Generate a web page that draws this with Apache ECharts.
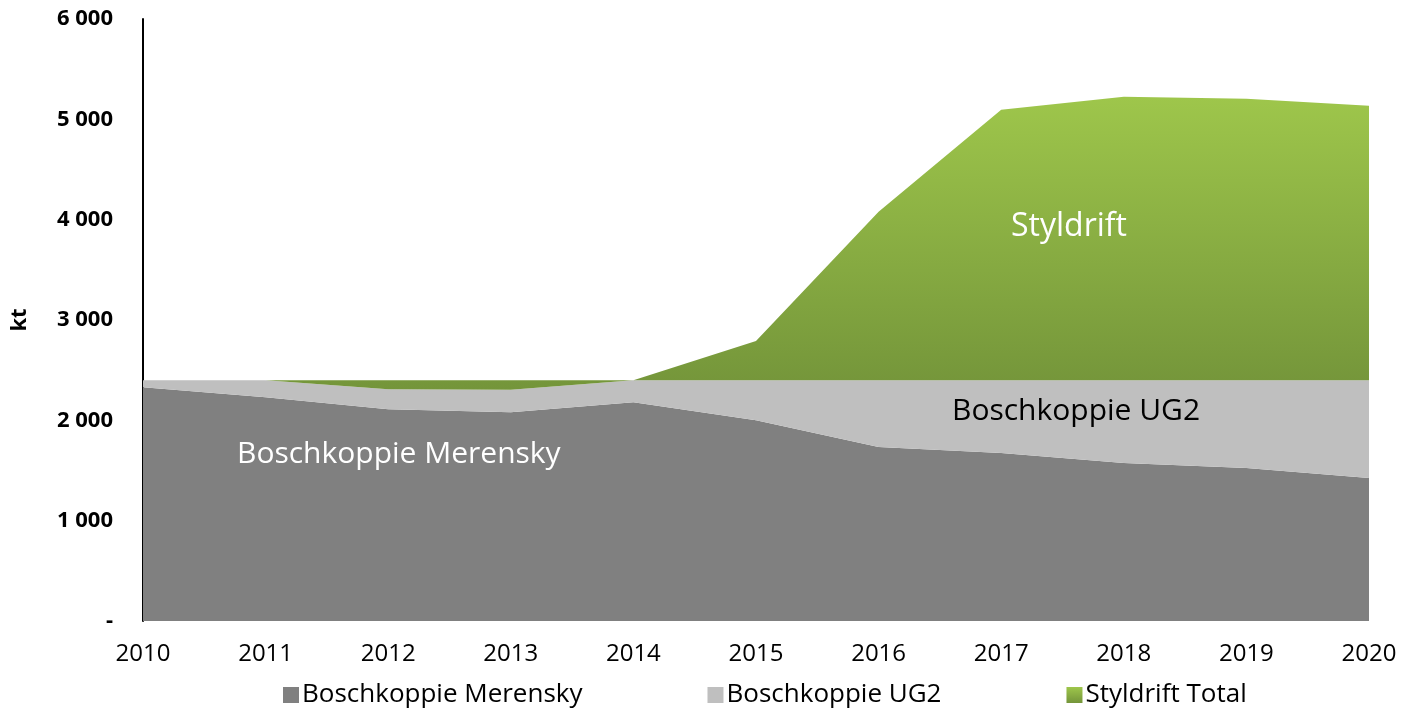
<!DOCTYPE html>
<html>
<head>
<meta charset="utf-8">
<script src="https://cdn.jsdelivr.net/npm/echarts@6/dist/echarts.min.js"></script>
<style>
  html, body { margin: 0; padding: 0; background: #fff; }
  #chart { width: 1404px; height: 710px; }
</style>
</head>
<body>
<div id="chart"></div>
<script>
// Years on the x axis
const years = ['2010', '2011', '2012', '2013', '2014', '2015', '2016', '2017', '2018', '2019', '2020']

// Stacked tonnes (kt)
const merensky = [2330, 2230, 2110, 2080, 2180, 2000, 1735, 1675, 1575, 1525, 1425]
const ug2 = [70, 170, 200, 225, 220, 400, 665, 725, 825, 875, 975]
const styldrift = [0, 0, 90, 95, 0, 390, 1680, 2695, 2825, 2805, 2735]

const seriesNames = ['Boschkoppie Merensky', 'Boschkoppie UG2', 'Styldrift Total']

const font = '"Open Sans", sans-serif'

const greenFill = new echarts.graphic.LinearGradient(0, 0, 0, 1, [
  { offset: 0, color: '#9ec64b' },
  { offset: 1, color: '#74953a' }
])

const chart = echarts.init(document.getElementById('chart'))

const options = {
  animation: false,
  grid: { left: 143, right: 35, top: 19, bottom: 89 },
  legend: {
    top: 677,
    left: 278,
    itemWidth: 16,
    itemHeight: 16,
    itemGap: 125,
    icon: 'rect',
    textStyle: { fontFamily: font, fontSize: 26, color: '#000', padding: [0, 0, 0, -2] },
    data: seriesNames
  },
  xAxis: {
    type: 'category',
    boundaryGap: false,
    data: years,
    axisLine: { show: false },
    axisTick: { show: false },
    axisLabel: { fontFamily: font, fontSize: 24, color: '#000', margin: 21 }
  },
  yAxis: {
    type: 'value',
    min: 0,
    max: 6000,
    interval: 1000,
    name: 'kt',
    nameLocation: 'middle',
    nameGap: 112,
    nameTextStyle: { fontFamily: font, fontSize: 22, fontWeight: 'bold', color: '#000' },
    axisLine: { show: true, lineStyle: { color: '#000', width: 2 } },
    axisTick: { show: false },
    splitLine: { show: false },
    axisLabel: {
      fontFamily: font,
      fontSize: 22,
      fontWeight: 'bold',
      color: '#000',
      margin: 30,
      formatter: v => v === 0 ? '-' : String(v).replace(/\B(?=(\d{3})+$)/g, ' ')
    }
  },
  series: [
    {
      name: seriesNames[0],
      type: 'line',
      stack: 'total',
      data: merensky,
      symbol: 'none',
      lineStyle: { width: 0 },
      itemStyle: { color: '#808080' },
      areaStyle: { color: '#808080', opacity: 1 }
    },
    {
      name: seriesNames[1],
      type: 'line',
      stack: 'total',
      data: ug2,
      symbol: 'none',
      lineStyle: { width: 0 },
      itemStyle: { color: '#bfbfbf' },
      areaStyle: { color: '#bfbfbf', opacity: 1 }
    },
    {
      name: seriesNames[2],
      type: 'line',
      stack: 'total',
      data: styldrift,
      symbol: 'none',
      lineStyle: { width: 0 },
      itemStyle: { color: greenFill },
      areaStyle: { color: greenFill, opacity: 1 }
    }
  ],
  // In-chart area labels
  graphic: {
    elements: [
      { type: 'text', z: 100, x: 1011, y: 211, style: { text: 'Styldrift', fill: '#fff', fontSize: 32, fontFamily: font } },
      { type: 'text', z: 100, x: 952, y: 396, style: { text: 'Boschkoppie UG2', fill: '#000', fontSize: 30, fontFamily: font } },
      { type: 'text', z: 100, x: 237, y: 439, style: { text: 'Boschkoppie Merensky', fill: '#fff', fontSize: 30, fontFamily: font } }
    ]
  }
}

chart.setOption(options)
</script>
</body>
</html>
